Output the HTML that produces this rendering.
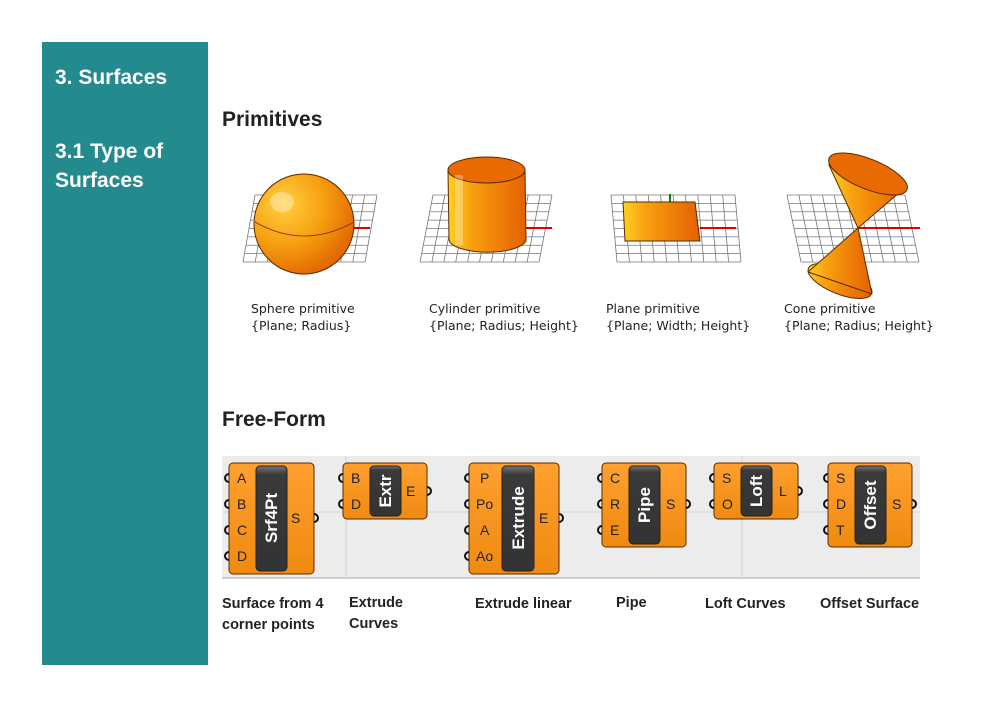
<!DOCTYPE html>
<html><head><meta charset="utf-8"><style>
html,body{margin:0;padding:0;background:#fff;width:1000px;height:705px;overflow:hidden}
svg{display:block}
.h{font-family:"Liberation Sans",sans-serif;font-weight:bold}
.s{font-family:"DejaVu Sans","Liberation Sans",sans-serif;font-size:12.5px;fill:#222}
.b{font-family:"Liberation Sans",sans-serif;font-size:14.5px;font-weight:bold;fill:#222}
.p{font-family:"Liberation Sans",sans-serif;font-size:14px;fill:#222}
.n{font-family:"Liberation Sans",sans-serif;font-size:17px;font-weight:bold;fill:#fff}
</style></head><body>
<svg width="1000" height="705" viewBox="0 0 1000 705" xmlns="http://www.w3.org/2000/svg">
<defs>
<g id="gr" stroke="#777" stroke-width="0.8" fill="none">
<path vector-effect="non-scaling-stroke" d="M0 0H1M0 .125H1M0 .25H1M0 .375H1M0 .5H1M0 .625H1M0 .75H1M0 .875H1M0 1H1M0 0V1M.1 0V1M.2 0V1M.3 0V1M.4 0V1M.5 0V1M.6 0V1M.7 0V1M.8 0V1M.9 0V1M1 0V1"/>
</g>
<radialGradient id="sp" cx="0.3" cy="0.3" r="0.8"><stop offset="0" stop-color="#ffd040"/><stop offset="0.5" stop-color="#f7a010"/><stop offset="1" stop-color="#e06000"/></radialGradient>
<linearGradient id="cy" x1="0" x2="1"><stop offset="0" stop-color="#ffd020"/><stop offset="0.3" stop-color="#f8a010"/><stop offset="1" stop-color="#e46000"/></linearGradient>
<linearGradient id="or" x1="0" y1="0" x2="0" y2="1"><stop offset="0" stop-color="#ffa030"/><stop offset="1" stop-color="#f08a10"/></linearGradient>
<linearGradient id="bk" x1="0" y1="0" x2="0" y2="1"><stop offset="0" stop-color="#777"/><stop offset="0.08" stop-color="#3a3a3a"/><stop offset="1" stop-color="#333"/></linearGradient>
</defs>
<rect x="42" y="42" width="166" height="623" fill="#238a8d"/>
<text x="55" y="84" class="h" font-size="21" fill="#fff">3. Surfaces</text>
<text x="55" y="158" class="h" font-size="21" fill="#fff">3.1 Type of</text>
<text x="55" y="187" class="h" font-size="21" fill="#fff">Surfaces</text>

<text x="222" y="126" class="h" font-size="21" fill="#222">Primitives</text>
<text x="222" y="426" class="h" font-size="21" fill="#222">Free-Form</text>

<!-- sphere -->
<use href="#gr" transform="matrix(122 0 -12 67 255 195)"/>
<line x1="352" y1="228" x2="370" y2="228" stroke="#d00" stroke-width="2"/>
<circle cx="304" cy="224" r="50" fill="url(#sp)" stroke="#5a2a00" stroke-width="1"/>
<path d="M255 222 Q304 250 354 222" fill="none" stroke="#803000" stroke-width="0.8"/>
<ellipse cx="282" cy="202" rx="12" ry="10" fill="#fff" opacity="0.35"/>

<!-- cylinder -->
<use href="#gr" transform="matrix(119 0 -13 67 433 195)"/>
<line x1="525" y1="228" x2="552" y2="228" stroke="#d00" stroke-width="2"/>
<path d="M448 170 L449 240 A38 13 0 0 0 526 238 L525 170 Z" fill="url(#cy)" stroke="#5a2a00"/>
<ellipse cx="486.5" cy="170" rx="38.5" ry="13" fill="#e86a00" stroke="#5a2a00"/>
<rect x="455" y="175" width="8" height="70" fill="#fff" opacity="0.3"/>

<!-- plane -->
<use href="#gr" transform="matrix(124 0 6 67 611 195)"/>
<line x1="670" y1="194" x2="670" y2="203" stroke="#080" stroke-width="2"/>
<line x1="700" y1="228" x2="736" y2="228" stroke="#d00" stroke-width="2"/>
<path d="M623 202 L695 202 L700 241 L625 241 Z" fill="url(#cy)" stroke="#5a2a00"/>

<!-- cone -->
<use href="#gr" transform="matrix(118 0 14 67 787 195)"/>
<line x1="858" y1="228" x2="920" y2="228" stroke="#d00" stroke-width="2"/>
<path d="M829 165 L858 228 L907 186 Z" fill="url(#cy)" stroke="#5a2a00"/>
<ellipse cx="868" cy="174" rx="42" ry="15" transform="rotate(22 868 174)" fill="#e86a00" stroke="#5a2a00"/>
<ellipse cx="840" cy="281" rx="34" ry="13" transform="rotate(22 840 281)" fill="url(#cy)" stroke="#5a2a00"/>
<path d="M858 228 L808 272 L872 294 Z" fill="url(#cy)" stroke="#5a2a00" stroke-linejoin="round"/>

<text x="251" y="313" class="s">Sphere primitive</text>
<text x="251" y="330" class="s">{Plane; Radius}</text>
<text x="429" y="313" class="s">Cylinder primitive</text>
<text x="429" y="330" class="s">{Plane; Radius; Height}</text>
<text x="606" y="313" class="s">Plane primitive</text>
<text x="606" y="330" class="s">{Plane; Width; Height}</text>
<text x="784" y="313" class="s">Cone primitive</text>
<text x="784" y="330" class="s">{Plane; Radius; Height}</text>

<!-- canvas -->
<rect x="222" y="456" width="698" height="122" fill="#ececec"/>
<line x1="222" y1="512" x2="920" y2="512" stroke="#d6d6d6"/>
<line x1="346" y1="456" x2="346" y2="578" stroke="#d0d0d0"/>
<line x1="742" y1="456" x2="742" y2="578" stroke="#d0d0d0"/>
<line x1="222" y1="578" x2="920" y2="578" stroke="#cfcfcf" stroke-width="2"/>

<g stroke="#5a2a00" stroke-width="1">
<rect x="229" y="463" width="85" height="111" rx="4" fill="url(#or)"/>
<rect x="343" y="463" width="84" height="56" rx="4" fill="url(#or)"/>
<rect x="469" y="463" width="90" height="111" rx="4" fill="url(#or)"/>
<rect x="602" y="463" width="84" height="84" rx="4" fill="url(#or)"/>
<rect x="714" y="463" width="84" height="56" rx="4" fill="url(#or)"/>
<rect x="828" y="463" width="84" height="84" rx="4" fill="url(#or)"/>
</g>
<g stroke="#222" stroke-width="1" fill="url(#bk)">
<rect x="256" y="466" width="31" height="105" rx="4"/>
<rect x="370" y="466" width="31" height="50" rx="4"/>
<rect x="502" y="466" width="32" height="105" rx="4"/>
<rect x="629" y="466" width="31" height="78" rx="4"/>
<rect x="741" y="466" width="31" height="50" rx="4"/>
<rect x="855" y="466" width="31" height="78" rx="4"/>
</g>
<text class="n" text-anchor="middle" transform="translate(277 518) rotate(-90)">Srf4Pt</text>
<text class="n" text-anchor="middle" transform="translate(391 491) rotate(-90)">Extr</text>
<text class="n" text-anchor="middle" transform="translate(524 518) rotate(-90)">Extrude</text>
<text class="n" text-anchor="middle" transform="translate(650 505) rotate(-90)">Pipe</text>
<text class="n" text-anchor="middle" transform="translate(762 491) rotate(-90)">Loft</text>
<text class="n" text-anchor="middle" transform="translate(876 505) rotate(-90)">Offset</text>

<g fill="none" stroke="#111" stroke-width="2">
<path d="M229 474a4 4 0 0 0 0 8M229 500a4 4 0 0 0 0 8M229 526a4 4 0 0 0 0 8M229 552a4 4 0 0 0 0 8M314 514a4 4 0 0 1 0 8"/>
<path d="M343 474a4 4 0 0 0 0 8M343 500a4 4 0 0 0 0 8M427 487a4 4 0 0 1 0 8"/>
<path d="M469 474a4 4 0 0 0 0 8M469 500a4 4 0 0 0 0 8M469 526a4 4 0 0 0 0 8M469 552a4 4 0 0 0 0 8M559 514a4 4 0 0 1 0 8"/>
<path d="M602 474a4 4 0 0 0 0 8M602 500a4 4 0 0 0 0 8M602 526a4 4 0 0 0 0 8M686 500a4 4 0 0 1 0 8"/>
<path d="M714 474a4 4 0 0 0 0 8M714 500a4 4 0 0 0 0 8M798 487a4 4 0 0 1 0 8"/>
<path d="M828 474a4 4 0 0 0 0 8M828 500a4 4 0 0 0 0 8M828 526a4 4 0 0 0 0 8M912 500a4 4 0 0 1 0 8"/>
</g>
<g class="p">
<text x="237" y="483" class="p">A</text><text x="237" y="509" class="p">B</text><text x="237" y="535" class="p">C</text><text x="237" y="561" class="p">D</text><text x="291" y="523" class="p">S</text>
<text x="351" y="483" class="p">B</text><text x="351" y="509" class="p">D</text><text x="406" y="496" class="p">E</text>
<text x="480" y="483" class="p">P</text><text x="476" y="509" class="p">Po</text><text x="480" y="535" class="p">A</text><text x="476" y="561" class="p">Ao</text><text x="539" y="523" class="p">E</text>
<text x="610" y="483" class="p">C</text><text x="610" y="509" class="p">R</text><text x="610" y="535" class="p">E</text><text x="666" y="509" class="p">S</text>
<text x="722" y="483" class="p">S</text><text x="722" y="509" class="p">O</text><text x="779" y="496" class="p">L</text>
<text x="836" y="483" class="p">S</text><text x="836" y="509" class="p">D</text><text x="836" y="535" class="p">T</text><text x="892" y="509" class="p">S</text>
</g>

<text x="222" y="608" class="b">Surface from 4</text>
<text x="222" y="629" class="b">corner points</text>
<text x="349" y="607" class="b">Extrude</text>
<text x="349" y="628" class="b">Curves</text>
<text x="475" y="608" class="b">Extrude linear</text>
<text x="616" y="607" class="b">Pipe</text>
<text x="705" y="608" class="b">Loft Curves</text>
<text x="820" y="608" class="b">Offset Surface</text>
</svg>
</body></html>
